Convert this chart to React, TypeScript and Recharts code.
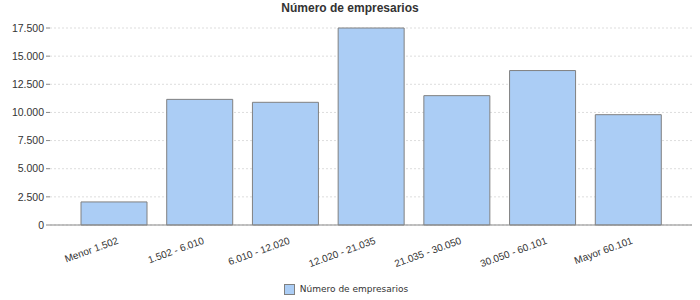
import { BarChart, Bar, XAxis, YAxis, CartesianGrid, Legend } from 'recharts';

const categories = [
  'Menor 1.502',
  '1.502 - 6.010',
  '6.010 - 12.020',
  '12.020 - 21.035',
  '21.035 - 30.050',
  '30.050 - 60.101',
  'Mayor 60.101',
];
const empresarios = [2050, 11160, 10900, 17500, 11490, 13720, 9800];
const yTicks = [0, 2500, 5000, 7500, 10000, 12500, 15000, 17500];

const seriesName = 'Número de empresarios';

const chartData = categories.map((name, i) => ({ name, value: empresarios[i] }));

// dot as thousands separator, also for 4-digit numbers
const fmt = (v: number) => String(v).replace(/\B(?=(\d{3})+(?!\d))/g, '.');

function AngledTick(props: any) {
  const { x, y, payload } = props;
  return (
    <text
      x={x + 4}
      y={y}
      transform={`rotate(-20, ${x + 4}, ${y})`}
      textAnchor='end'
      dominantBaseline='central'
      fontSize={10}
      fontFamily='Liberation Sans, Arial, sans-serif'
      fill='#333'
    >
      {payload.value}
    </text>
  );
}

function LegendBox() {
  return (
    <div
      style={{
        display: 'flex',
        justifyContent: 'center',
        alignItems: 'center',
        fontFamily: 'DejaVu Sans, sans-serif',
        fontSize: 9,
        lineHeight: '12px',
        color: '#333',
        transform: 'translateY(3px)',
      }}
    >
      <span
        style={{
          width: 9,
          height: 9,
          background: '#abcdf5',
          border: '1px solid #808080',
          marginRight: 5,
        }}
      />
      {seriesName}
    </div>
  );
}

export default function App() {
  return (
    <div style={{ position: 'absolute', left: 0, top: 0, width: 700, height: 300, background: '#fff' }}>
      <div
        style={{
          position: 'absolute',
          left: 0,
          top: 1,
          width: 700,
          textAlign: 'center',
          fontFamily: 'Liberation Sans, Arial, sans-serif',
          fontWeight: 'bold',
          fontSize: 12,
          color: '#333',
        }}
      >
        {seriesName}
      </div>
      <BarChart
        width={700}
        height={300}
        data={chartData}
        margin={{ top: 28, right: 8, left: 0, bottom: 0 }}
        barCategoryGap={10}
      >
        <CartesianGrid vertical={false} stroke='#ddd' strokeDasharray='2 2' />
        <XAxis
          dataKey='name'
          height={51}
          interval={0}
          padding={{ left: 21, right: 21 }}
          stroke='#888'
          tickLine={false}
          tick={<AngledTick />}
          tickMargin={9}
        />
        <YAxis
          width={50}
          domain={[0, 17500]}
          ticks={yTicks}
          tickFormatter={fmt}
          axisLine={false}
          tickSize={4}
          tickLine={{ stroke: '#888' }}
          tick={{ fontSize: 10.5, fill: '#333', fontFamily: 'Liberation Sans, Arial, sans-serif' }}
        />
        <Legend
          verticalAlign='bottom'
          height={20}
          wrapperStyle={{ paddingTop: 4 }}
          content={() => <LegendBox />}
        />
        <Bar
          dataKey='value'
          name={seriesName}
          fill='#abcdf5'
          stroke='#808080'
          strokeWidth={1}
          isAnimationActive={false}
        />
      </BarChart>
    </div>
  );
}
